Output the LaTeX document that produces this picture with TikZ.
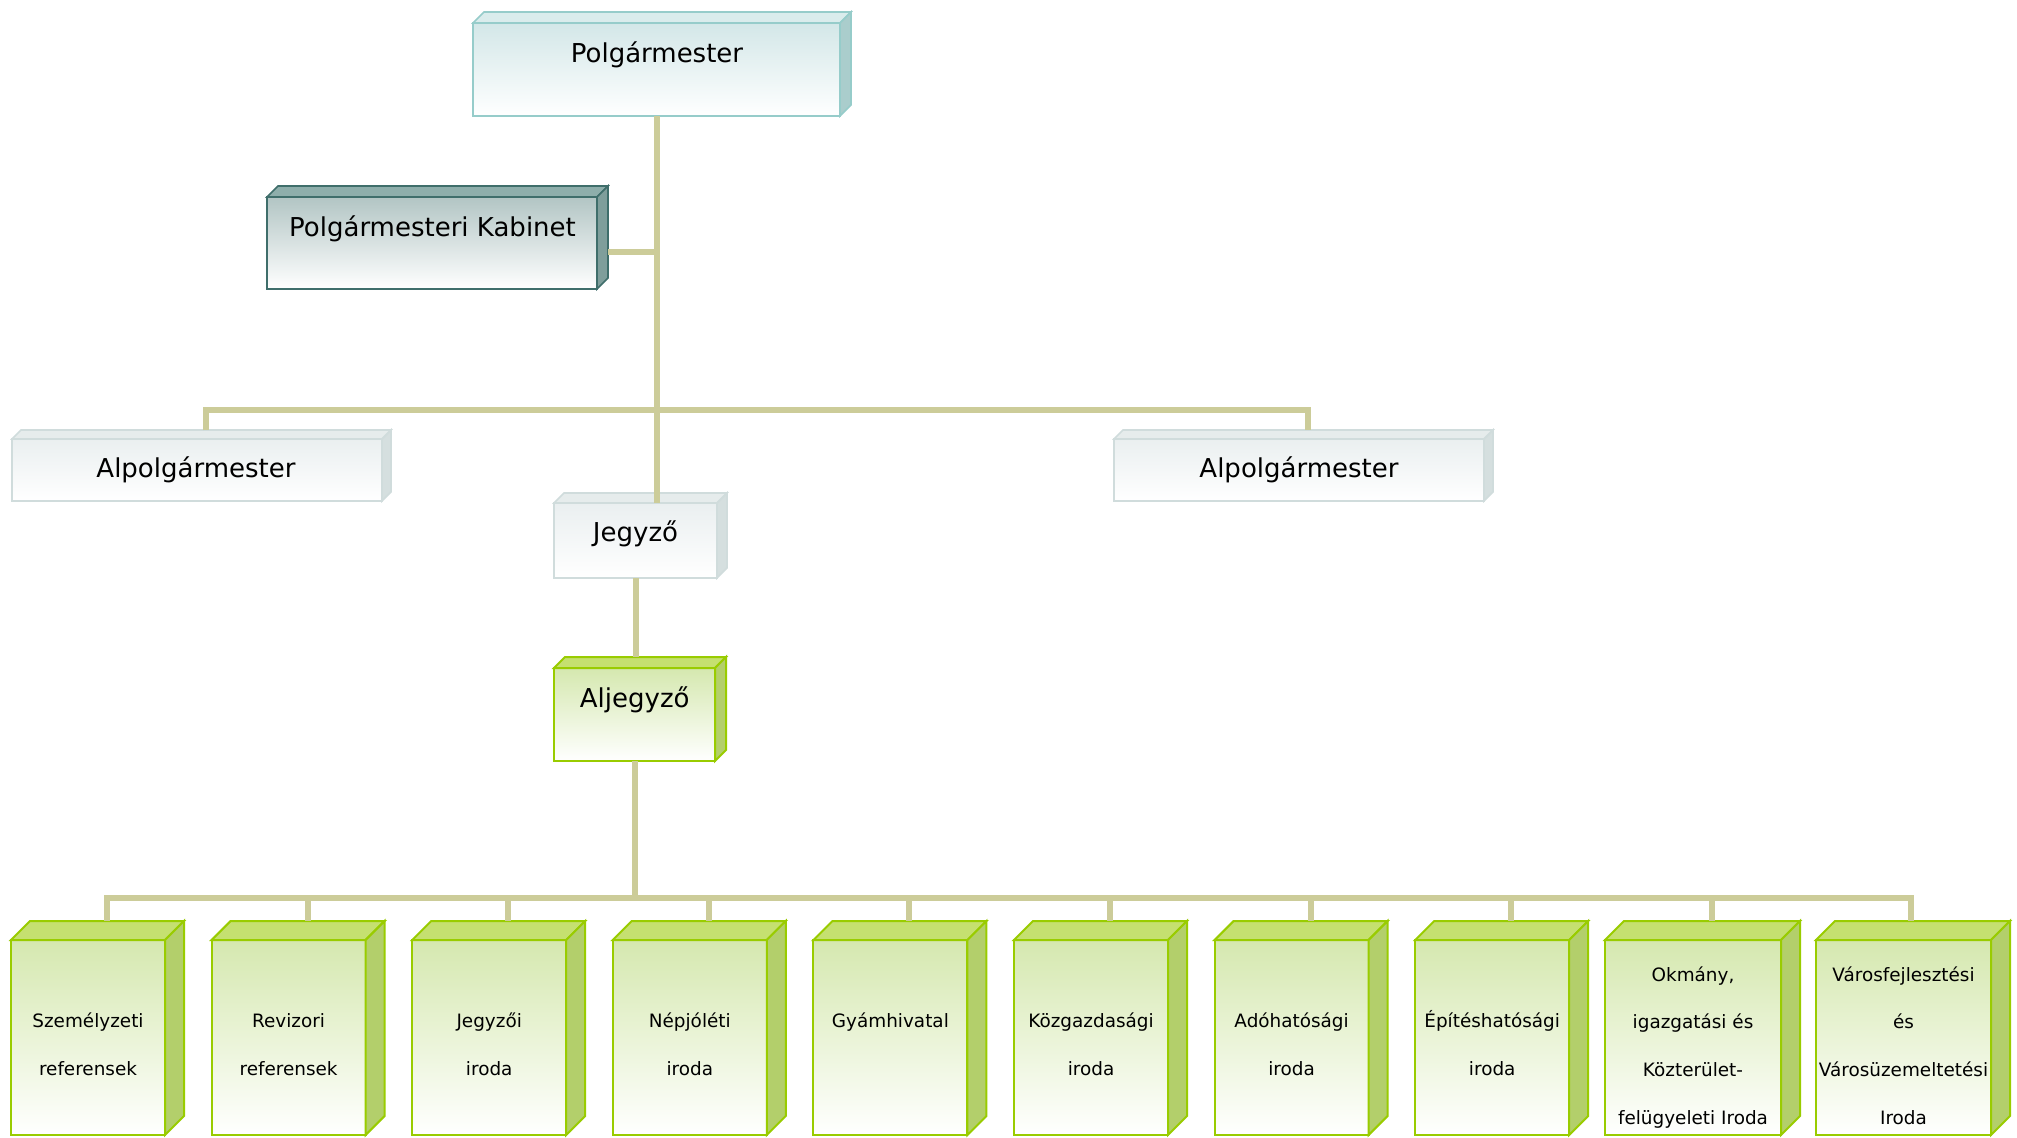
\documentclass[tikz,border=0pt]{standalone}
\usepackage{fontspec}
\setmainfont{DejaVu Sans}
\definecolor{linec}{HTML}{CCCC99}
\definecolor{tealF}{HTML}{D3E7E8}
\definecolor{tealB}{HTML}{96CCCA}
\definecolor{tealT}{HTML}{DAECEC}
\definecolor{tealS}{HTML}{AACDCC}
\definecolor{kabF}{HTML}{B2C5C4}
\definecolor{kabB}{HTML}{3F6E6B}
\definecolor{kabT}{HTML}{8EAEAB}
\definecolor{kabS}{HTML}{7F9E9B}
\definecolor{grayF}{HTML}{EAEFF0}
\definecolor{grayB}{HTML}{D0DCDC}
\definecolor{grayT}{HTML}{E6ECEC}
\definecolor{grayS}{HTML}{D5DFDF}
\definecolor{grnF}{HTML}{D5E8AF}
\definecolor{grnB}{HTML}{99CC00}
\definecolor{grnT}{HTML}{C5E070}
\definecolor{grnS}{HTML}{B3CF6B}
\tikzset{
  facebase/.style={inner sep=0pt, outer sep=0pt, line join=miter},
  tealfront/.style={facebase, draw=tealB, line width=1.6pt, top color=tealF, middle color=tealF!70!white, bottom color=white},
  tealtop/.style={draw=tealB, line width=1.6pt, fill=tealT, line join=miter},
  tealside/.style={draw=tealB, line width=1.6pt, fill=tealS, line join=miter},
  kabfront/.style={facebase, draw=kabB, line width=1.6pt, top color=kabF, middle color=kabF!70!white, bottom color=white},
  kabtop/.style={draw=kabB, line width=1.6pt, fill=kabT, line join=miter},
  kabside/.style={draw=kabB, line width=1.6pt, fill=kabS, line join=miter},
  grayfront/.style={facebase, draw=grayB, line width=1.6pt, top color=grayF, middle color=grayF!70!white, bottom color=white},
  graytop/.style={draw=grayB, line width=1.6pt, fill=grayT, line join=miter},
  grayside/.style={draw=grayB, line width=1.6pt, fill=grayS, line join=miter},
  grnfront/.style={facebase, draw=grnB, line width=2pt, top color=grnF, middle color=grnF!65!white, bottom color=white},
  grntop/.style={draw=grnB, line width=2pt, fill=grnT, line join=miter},
  grnside/.style={draw=grnB, line width=2pt, fill=grnS, line join=miter},
  conn/.style={draw=linec, line width=6pt, line join=miter},
  bigtxt/.style={font=\fontsize{26}{31}\selectfont, inner sep=0pt, anchor=base},
  smalltxt/.style={font=\fontsize{18.4}{47.6}\selectfont, inner sep=0pt, anchor=base, align=center},
}
\newcommand\tdbox[7]{%
  \node[#7front, minimum width=#4pt, minimum height=#5pt] (#1) at (#2,#3) {};
  \filldraw[#7top] (#1.north west) -- ++(#6,-#6) -- ([shift={(#6,-#6)}]#1.north east) -- (#1.north east) -- cycle;
  \filldraw[#7side] (#1.north east) -- ++(#6,-#6) -- ([shift={(#6,-#6)}]#1.south east) -- (#1.south east) -- cycle;
}
\begin{document}
\begin{tikzpicture}[x=1pt, y=-1pt]
\useasboundingbox (0,0) rectangle (2017,1137);
\fill[white] (0,0) rectangle (2017,1137);
% boxes
\tdbox{pm}{656.5}{69.5}{367}{93}{11}{teal}
\tdbox{kab}{432}{243}{330}{92}{11}{kab}
\tdbox{alpa}{197}{470}{370}{62}{9}{gray}
\tdbox{alpb}{1299}{470}{370}{62}{9}{gray}
\tdbox{jeg}{635.5}{540.5}{163}{75}{10}{gray}
\tdbox{alj}{634.5}{714.5}{161}{93}{11}{grn}
\tdbox{b1}{88}{1037.5}{154}{195}{19}{grn}
\tdbox{b2}{288.6}{1037.5}{154}{195}{19}{grn}
\tdbox{b3}{489.2}{1037.5}{154}{195}{19}{grn}
\tdbox{b4}{689.8}{1037.5}{154}{195}{19}{grn}
\tdbox{b5}{890.4}{1037.5}{154}{195}{19}{grn}
\tdbox{b6}{1091}{1037.5}{154}{195}{19}{grn}
\tdbox{b7}{1291.6}{1037.5}{154}{195}{19}{grn}
\tdbox{b8}{1492.2}{1037.5}{154}{195}{19}{grn}
\tdbox{b9}{1693}{1037.5}{176}{195}{19}{grn}
\tdbox{b10}{1903.5}{1037.5}{175}{195}{19}{grn}
% connector points
\coordinate (busa) at (656.5,410);
\coordinate (busb) at (634.5,898);
\coordinate (kabE) at (608,252);
\coordinate (alpaT) at ([shift={(9,-9)}]alpa.north);
\coordinate (alpbT) at ([shift={(9,-9)}]alpb.north);
\coordinate (aljT) at ([shift={(0,-11)}]alj.north);
\foreach \i in {1,...,9} {\coordinate (d\i) at ([shift={(19,-19)}]b\i.north);}
\coordinate (d10) at ([shift={(7.5,-19)}]b10.north);
% connectors
\draw[conn] (alpaT) -- (alpaT |- busa) -- (alpbT |- busa) -- (alpbT);
\draw[conn] (pm.south) -- (pm.south |- jeg.north);
\draw[conn] (kabE) -- (kabE -| pm.south);
\draw[conn] (jeg.south) -- (jeg.south |- aljT);
\draw[conn] (alj.south) -- (alj.south |- busb);
\draw[conn] (d1) -- (d1 |- busb) -- (d10 |- busb) -- (d10);
\foreach \i in {2,...,9} {\draw[conn] (d\i |- busb) -- (d\i);}
% labels
\node[bigtxt] (pmt) at (657,63) {Polgármester};
\node[bigtxt] (kabt) at (432.5,236) {Polgármesteri Kabinet};
\node[bigtxt] (alpat) at (196,477) {Alpolgármester};
\node[bigtxt] (alpbt) at (1299,477) {Alpolgármester};
\node[bigtxt] (jegt) at (635.5,541) {Jegyző};
\node[bigtxt] (aljt) at (634.7,707) {Aljegyző};
\node[smalltxt] (b1t) at (88,1075) {Személyzeti\\referensek};
\node[smalltxt] (b2t) at (288.6,1075) {Revizori\\referensek};
\node[smalltxt] (b3t) at (489.2,1075) {Jegyzői\\iroda};
\node[smalltxt] (b4t) at (689.8,1075) {Népjóléti\\iroda};
\node[smalltxt] (b5t) at (890.4,1027) {Gyámhivatal};
\node[smalltxt] (b6t) at (1091,1075) {Közgazdasági\\iroda};
\node[smalltxt] (b7t) at (1291.6,1075) {Adóhatósági\\iroda};
\node[smalltxt] (b8t) at (1492.2,1075) {Építéshatósági\\iroda};
\node[smalltxt] (b9t) at (1693,1124) {Okmány,\\igazgatási és\\Közterület-\\felügyeleti Iroda};
\node[smalltxt] (b10t) at (1903.5,1124) {Városfejlesztési\\és\\Városüzemeltetési\\Iroda};
\end{tikzpicture}
\end{document}
